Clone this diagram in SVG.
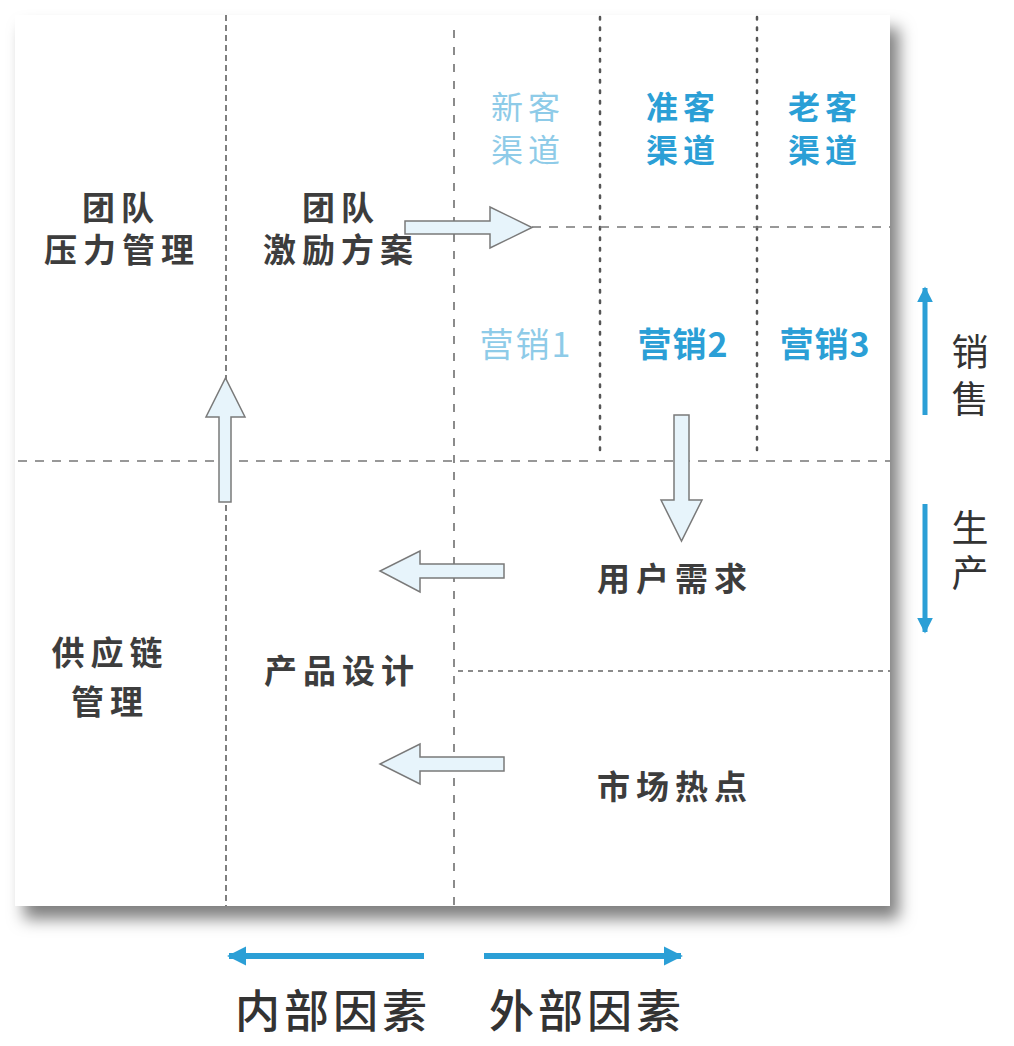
<svg xmlns="http://www.w3.org/2000/svg" width="1014" height="1046" viewBox="0 0 1014 1046">
<style>
text{font-family:"Noto Sans CJK SC","Noto Sans",sans-serif;text-anchor:middle;dominant-baseline:central}
.dk{fill:#3d3d3d;font-size:33px;font-weight:700;letter-spacing:6px}
.lb{fill:#8ecbe8;font-size:32px;font-weight:400;letter-spacing:5px}
.bl{fill:#2b9fd6;font-size:32px;font-weight:700;letter-spacing:5px}
.side{fill:#333;font-size:37px;font-weight:400}
.bot{fill:#333;font-size:45px;font-weight:500;letter-spacing:4px}
.g1{stroke:#555;stroke-width:1.5;stroke-dasharray:6 4;fill:none}
.g2{stroke:#666;stroke-width:1.5;stroke-dasharray:8 9;fill:none}
.g3{stroke:#555;stroke-width:2.5;stroke-dasharray:2.5 8;stroke-linecap:round;fill:none}
.g4{stroke:#777;stroke-width:1.5;stroke-dasharray:9 8;fill:none}
.g5{stroke:#666;stroke-width:1.5;stroke-dasharray:5 5;fill:none}
.blk{fill:#e7f4fb;stroke:#7a7a7a;stroke-width:1.5;stroke-linejoin:miter}
.ax{stroke:#2b9fd6;fill:none}
</style>
<defs>
<filter id="sh" x="-10%" y="-10%" width="125%" height="125%">
<feDropShadow dx="9" dy="13" stdDeviation="8" flood-color="#000" flood-opacity="0.5"/>
</filter>
<marker id="ah" viewBox="0 0 10 10" refX="9" refY="5" markerWidth="3.2" markerHeight="3.2" orient="auto" markerUnits="strokeWidth">
<path d="M0,0 L10,5 L0,10 Z" fill="#2b9fd6"/>
</marker>
</defs>
<rect width="1014" height="1046" fill="#fff"/>
<rect id="panel" x="15" y="15" width="875" height="891" fill="#fff" filter="url(#sh)"/>
<g id="grid">
<line class="g1" x1="226" y1="15" x2="226" y2="906"/>
<line class="g2" x1="454" y1="30" x2="454" y2="906"/>
<line class="g3" x1="600" y1="17" x2="600" y2="458"/>
<line class="g3" x1="757" y1="17" x2="757" y2="458"/>
<line class="g4" x1="18" y1="461" x2="890" y2="461"/>
<line class="g4" x1="532" y1="227" x2="890" y2="227"/>
<line class="g5" x1="458" y1="671" x2="890" y2="671"/>
</g>
<g id="n-team-pressure"><text class="dk" x="121" y="206">团队</text><text class="dk" x="122" y="248">压力管理</text></g>
<g id="n-team-incentive"><text class="dk" x="341" y="206">团队</text><text class="dk" x="341" y="248">激励方案</text></g>
<g id="n-new"><text class="lb" x="528" y="105">新客</text><text class="lb" x="528" y="148">渠道</text></g>
<g id="n-quasi"><text class="bl" x="683" y="105">准客</text><text class="bl" x="683" y="148">渠道</text></g>
<g id="n-old"><text class="bl" x="825" y="105">老客</text><text class="bl" x="825" y="148">渠道</text></g>
<g id="n-m1"><text class="lb" x="526" y="342" style="letter-spacing:2px;font-size:34px">营销1</text></g>
<g id="n-m2"><text class="bl" x="683" y="342" style="letter-spacing:1px;font-size:34px">营销2</text></g>
<g id="n-m3"><text class="bl" x="825" y="342" style="letter-spacing:1px;font-size:34px">营销3</text></g>
<g id="n-demand"><text class="dk" x="675" y="577">用户需求</text></g>
<g id="n-hot"><text class="dk" x="675" y="785">市场热点</text></g>
<g id="n-design"><text class="dk" x="342" y="669">产品设计</text></g>
<g id="n-supply"><text class="dk" x="110" y="651">供应链</text><text class="dk" x="110" y="700">管理</text></g>
<g id="n-sales"><text class="side" x="970" y="350">销</text><text class="side" x="970" y="397">售</text></g>
<g id="n-prod"><text class="side" x="970" y="526">生</text><text class="side" x="970" y="571">产</text></g>
<g id="n-internal"><text class="bot" x="333" y="1008">内部因素</text></g>
<g id="n-external"><text class="bot" x="587" y="1008">外部因素</text></g>
<g id="connectors">
<polygon class="blk" points="405,221 490,221 490,207 532,227.5 490,248 490,234 405,234"/>
<polygon class="blk" points="219,502 219,417 206,417 225.5,378 245,417 231,417 231,502"/>
<polygon class="blk" points="674,415 689,415 689,500 702,500 681.5,541 661,500 674,500"/>
<polygon class="blk" points="504,564 420,564 420,551 380,571 420,592 420,578 504,578"/>
<polygon class="blk" points="504,757 420,757 420,744 380,764 420,784 420,771 504,771"/>
<line class="ax" stroke-width="5" x1="925" y1="415" x2="925" y2="288" marker-end="url(#ah)"/>
<line class="ax" stroke-width="5" x1="925" y1="504" x2="925" y2="632" marker-end="url(#ah)"/>
<line class="ax" stroke-width="6" x1="424" y1="956" x2="229" y2="956" marker-end="url(#ah)"/>
<line class="ax" stroke-width="6" x1="484" y1="956" x2="681" y2="956" marker-end="url(#ah)"/>
</g>
</svg>
